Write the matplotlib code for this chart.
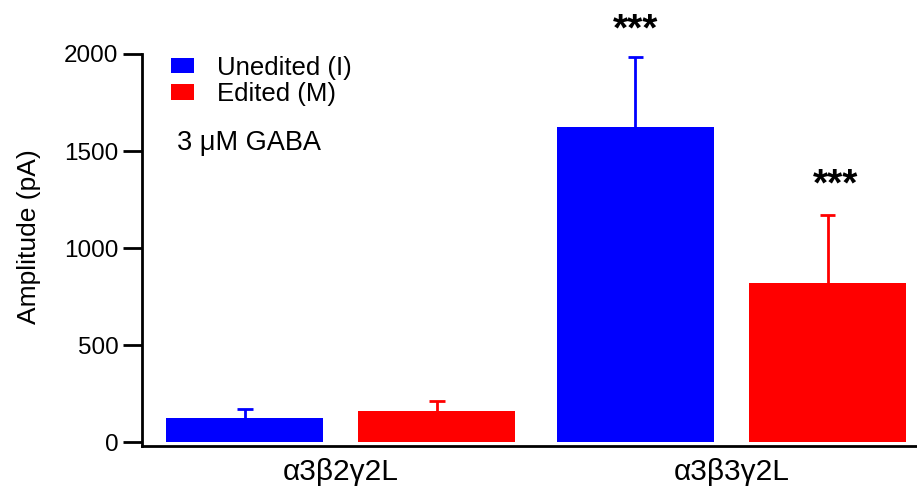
import numpy as np
import matplotlib.pyplot as plt

plt.rcParams['font.family'] = ['Liberation Sans', 'DejaVu Sans']

groups = ["α3β2γ2L", "α3β3γ2L"]
unedited = [122, 1625]
unedited_err = [48, 361]
edited = [160, 820]
edited_err = [53, 350]
stars_unedited = ["", "***"]
stars_edited = ["", "***"]

fig = plt.figure(figsize=(9.17, 4.9), dpi=100)
ax = fig.add_axes([0.1549, 0.0898, 0.8451, 0.8])

x = np.arange(len(groups))
w = 0.402
off = 0.246
cap = 0.02

ax.bar(x - off, unedited, w, color="#0000ff", label="Unedited (I)")
ax.bar(x + off, edited, w, color="#ff0000", label="Edited (M)")

# only the upper half of the error bars
for xs, ys, es, c in [(x - off, unedited, unedited_err, "#0000ff"),
                      (x + off, edited, edited_err, "#ff0000")]:
    tops = np.array(ys) + np.array(es)
    ax.vlines(xs, ys, tops, color=c, lw=2)
    ax.hlines(tops, xs - cap, xs + cap, color=c, lw=2)

for i in range(len(groups)):
    if stars_unedited[i]:
        ax.text(x[i] - off, unedited[i] + unedited_err[i] + 85, stars_unedited[i],
                ha="center", va="baseline", fontsize=28, fontweight="bold")
    if stars_edited[i]:
        ax.text(x[i] + off + 0.02, edited[i] + edited_err[i] + 100, stars_edited[i],
                ha="center", va="baseline", fontsize=28, fontweight="bold")

ax.set_ylim(-20, 2000)
ax.set_xlim(-0.509, 1.475)
ax.set_yticks([0, 500, 1000, 1500, 2000])
ax.set_xticks(x)
ax.set_xticklabels(groups)
ax.tick_params(axis="y", length=14, width=2, labelsize=17.5, pad=3)
ax.tick_params(axis="x", length=0, labelsize=21.5, pad=9)
ax.set_ylabel("Amplitude (pA)", fontsize=19)
ax.yaxis.set_label_coords(-0.131, 0.533)

for s in ["top", "right"]:
    ax.spines[s].set_visible(False)
ax.spines["left"].set_linewidth(2)
ax.spines["bottom"].set_linewidth(2)

ax.legend(loc="upper left", bbox_to_anchor=(0.007, 1.055), frameon=False, fontsize=18.5,
          handlelength=0.9, handleheight=0.58, labelspacing=0.1, handletextpad=0.9)
ax.text(0.045, 0.755, "3 μM GABA", transform=ax.transAxes, fontsize=19.5)

fig.savefig("out.png", dpi=100)
